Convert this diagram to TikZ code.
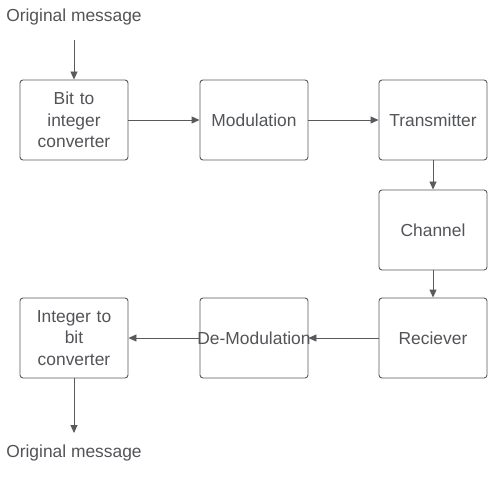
\documentclass[tikz,border=0pt]{standalone}
\usepackage{fontspec}
\setmainfont{Liberation Sans}
\usetikzlibrary{arrows.meta}
\definecolor{boxline}{RGB}{88,90,94}
\definecolor{boxtext}{RGB}{82,84,88}
\tikzset{
  block/.style={draw=boxline, line width=0.9pt, rounded corners=3pt,
    text width=108pt, minimum height=80pt, align=center,
    text=boxtext, font=\fontsize{17.4}{21.5}\selectfont, inner sep=0pt},
  msg/.style={text=boxtext, font=\fontsize{17.4}{21.5}\selectfont, inner sep=0pt},
  flow/.style={draw=boxline, line width=0.9pt,
    -{Triangle[length=8pt,width=7pt]}}
}
\begin{document}
\begin{tikzpicture}[x=1pt, y=-1pt]

  \newcommand\CA{74};
  \newcommand\CB{254};
  \newcommand\CC{433};

  \useasboundingbox[fill=white] (0,0) rectangle (494,478);

  % top row
  \node[block] (bit)  at (\CA,120) {Bit to\\integer\\converter};
  \node[block] (mod)  at (\CB,120) {Modulation};
  \node[block] (tx)   at (\CC,120) {Transmitter};

  % channel
  \node[block] (chan) at (\CC,230) {Channel};

  % bottom row
  \node[block] (rx)   at (\CC,338) {Reciever};
  \node[block] (demod) at (\CB,338) {\makebox[108pt][c]{De-Modulation}};
  \node[block] (int)  at (\CA,338) {Integer to\\bit\\converter};

  \node[msg] (msgin)  at (\CA,17) {Original message};
  \node[msg] (msgout) at (\CA,453) {Original message};
  \coordinate (in1)  at (\CA,40);
  \coordinate (out1) at (\CA,433);

  \draw[flow] (in1) -- (bit);
  \draw[flow] (bit) -- (mod);
  \draw[flow] (mod) -- (tx);
  \draw[flow] (tx) -- (chan);
  \draw[flow] (chan) -- (rx);
  \draw[flow] (rx) -- (demod);
  \draw[flow] (demod) -- (int);
  \draw[flow] (int) -- (out1);

\end{tikzpicture}
\end{document}
